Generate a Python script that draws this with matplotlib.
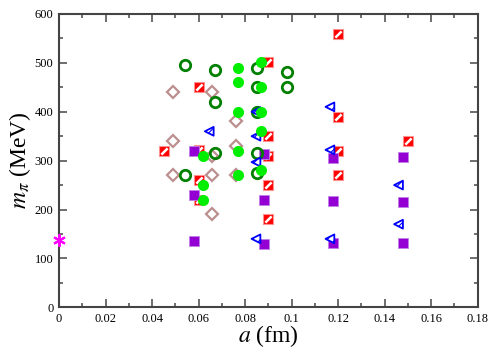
import matplotlib
matplotlib.use("Agg")
import matplotlib.pyplot as plt
from matplotlib.path import Path
from matplotlib.ticker import MultipleLocator

plt.rcParams['font.family'] = ['Liberation Serif', 'DejaVu Serif']
plt.rcParams['mathtext.fontset'] = 'stix'
plt.rcParams['hatch.linewidth'] = 0.8

# lattice spacings a (fm) and pion masses (MeV) per collaboration
open_green_a = [0.054, 0.067, 0.067, 0.067, 0.054, 0.085, 0.085, 0.085, 0.085, 0.085, 0.098, 0.098]
open_green_m = [495, 485, 420, 315, 270, 490, 450, 400, 315, 275, 481, 450]

lime_a = [0.062, 0.062, 0.062, 0.077, 0.077, 0.077, 0.077, 0.077, 0.087, 0.087, 0.087, 0.087, 0.087]
lime_m = [310, 250, 220, 490, 461, 400, 320, 270, 501, 450, 400, 361, 281]

diamond_a = [0.049, 0.049, 0.049, 0.066, 0.066, 0.066, 0.066, 0.076, 0.076, 0.076]
diamond_m = [440, 340, 270, 440, 310, 270, 190, 381, 330, 270]

red_a = [0.060, 0.045, 0.060, 0.060, 0.060, 0.090, 0.120, 0.120, 0.090, 0.090, 0.120, 0.150, 0.120, 0.090, 0.090]
red_m = [450, 320, 321, 260, 220, 501, 560, 390, 350, 310, 320, 340, 270, 250, 180]

purple_a = [0.058, 0.058, 0.058, 0.088, 0.118, 0.148, 0.088, 0.118, 0.148, 0.088, 0.118, 0.148]
purple_m = [320, 229, 136, 314, 306, 308, 220, 218, 215, 129, 131, 131]

blue_a = [0.0646, 0.0847, 0.0847, 0.0847, 0.1165, 0.1165, 0.0847, 0.1165, 0.146, 0.146]
blue_m = [360, 400, 350, 297, 410, 322, 140, 140, 250, 170]

phys_a = [0.0]
phys_m = [138]

fig = plt.figure(figsize=(4.98, 3.49), dpi=100)
ax = fig.add_axes([0.1185, 0.1195, 0.8405, 0.8405])

ax.plot(diamond_a, diamond_m, ls='none', marker='D', ms=6, mfc='none', mec='#bc8f8f', mew=1.6)
ax.plot(red_a, red_m, ls='none', marker='s', ms=6.5, mfc='#ff0000', mec='#ff9090', mew=0.8)
slash = Path([(-0.5, -0.5), (0.5, 0.5)], [Path.MOVETO, Path.LINETO])
ax.plot(red_a, red_m, ls='none', marker=slash, ms=4.5, mec='white', mew=1.8)
ax.plot(purple_a, purple_m, ls='none', marker='s', ms=7, mfc='#9400d3', mec='#c080e8', mew=0.6)
ax.plot(open_green_a, open_green_m, ls='none', marker='o', ms=7.5, mfc='none', mec='#008000', mew=2)
ax.scatter(blue_a, blue_m, marker='<', s=40, facecolor='white', edgecolor='#0000ff',
           linewidths=1.3, hatch='////', zorder=3)
ax.plot(lime_a, lime_m, ls='none', marker='o', ms=8, mfc='#00ee00', mec='#00ee00', mew=0, zorder=4)
ax.plot(phys_a, phys_m, ls='none', marker=(6, 2, 0), ms=9, mec='#ff00ff', mew=1.5,
        clip_on=False, zorder=5)

ax.set_xlim(0, 0.18)
ax.set_ylim(0, 600)
ax.set_xticks([0, 0.02, 0.04, 0.06, 0.08, 0.1, 0.12, 0.14, 0.16, 0.18])
ax.set_xticklabels(['0', '0.02', '0.04', '0.06', '0.08', '0.1', '0.12', '0.14', '0.16', '0.18'])
ax.xaxis.set_minor_locator(MultipleLocator(0.01))
ax.yaxis.set_major_locator(MultipleLocator(100))
ax.yaxis.set_minor_locator(MultipleLocator(50))

ax.tick_params(which='both', direction='in', top=True, right=True, labelsize=9,
               color='#555555', width=1.2)
ax.tick_params(which='major', length=6, pad=4)
ax.tick_params(which='minor', length=3)
for s in ax.spines.values():
    s.set_linewidth(1.5)
    s.set_color('#444444')

ax.set_xlabel(r'$a$ (fm)', fontsize=17, labelpad=-1)
ax.set_ylabel(r'$m_\pi$ (MeV)', fontsize=17, labelpad=1)

fig.savefig('out.png', dpi=100)
